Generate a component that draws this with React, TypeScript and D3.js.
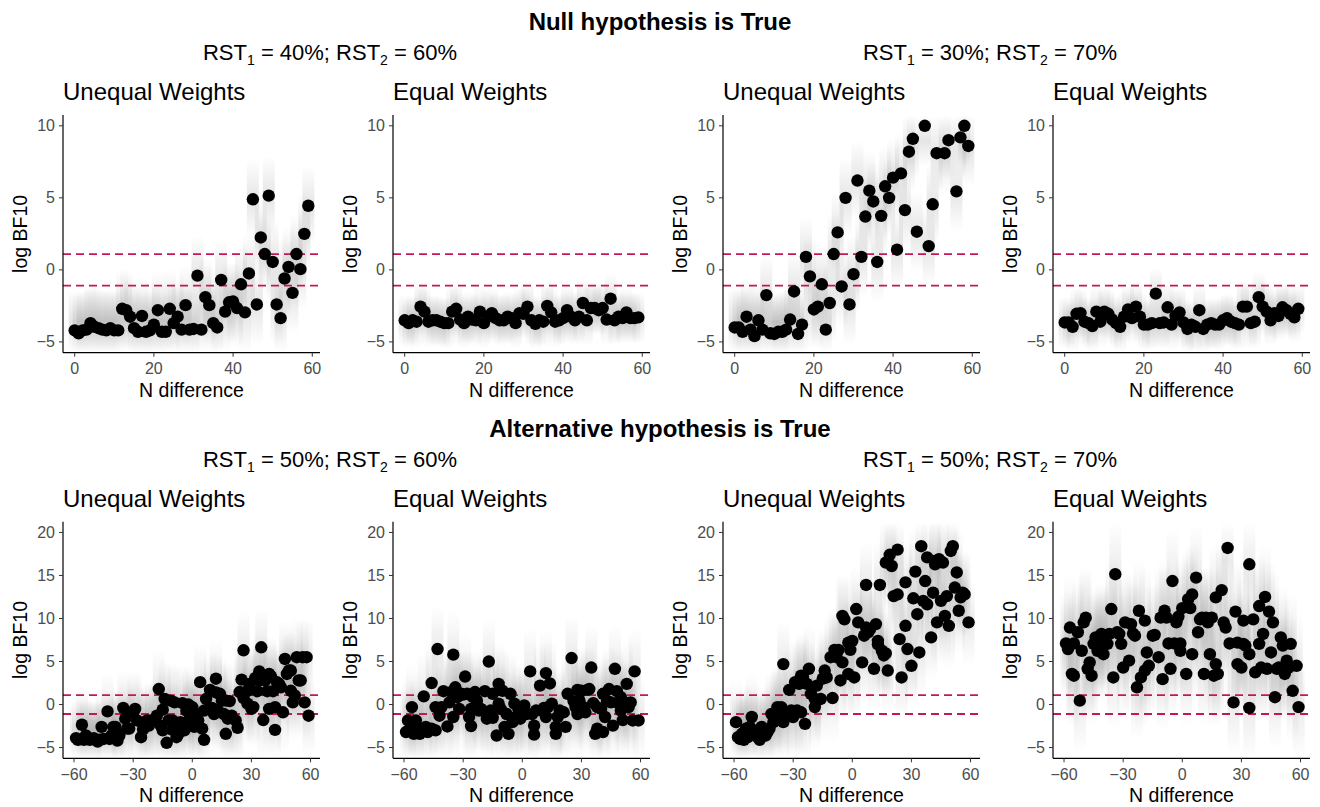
import * as d3 from "d3";

// N difference for the top row (null hypothesis panels)
const nTop = [
  0, 1, 2, 3, 4, 5, 6, 7, 8, 9, 10, 11, 12, 13, 14, 15, 16, 17, 18, 19,
  20, 21, 22, 23, 24, 25, 26, 27, 28, 29, 30, 31, 32, 33, 34, 35, 36, 37, 38, 39,
  40, 41, 42, 43, 44, 45, 46, 47, 48, 49, 50, 51, 52, 53, 54, 55, 56, 57, 58, 59,
];

// log BF10, RST1 = 40%; RST2 = 60%
const nullUnequal4060 = [
  -4.2, -4.4, -4.2, -4.15, -3.7, -3.95, -4.05, -4.15, -4.2, -4.05,
  -4.2, -4.2, -2.7, -2.8, -3.25, -4.05, -4.3, -3.2, -4.3, -4.2,
  -3.8, -2.8, -4.3, -4.3, -2.7, -3.7, -3.25, -4.15, -2.45, -4.15,
  -4.1, -0.4, -4.15, -1.9, -2.45, -3.7, -4.0, -0.7, -2.9, -2.25,
  -2.2, -2.65, -1.0, -2.95, -0.25, 4.9, -2.4, 2.25, 1.1, 5.15,
  0.55, -2.4, -3.35, -0.6, 0.2, -1.6, 1.1, 0.05, 2.5, 4.45,
];
const nullEqual4060 = [
  -3.5, -3.7, -3.5, -3.6, -2.55, -2.9, -3.6, -3.5, -3.5, -3.6,
  -3.7, -3.7, -2.9, -2.7, -3.45, -3.7, -3.25, -3.45, -3.5, -2.9,
  -3.7, -3.25, -3.0, -3.35, -3.5, -3.5, -3.25, -3.35, -3.7, -3.0,
  -3.05, -2.55, -3.5, -3.75, -3.5, -3.6, -2.5, -2.95, -3.6, -3.5,
  -3.35, -2.8, -3.25, -3.5, -3.25, -2.3, -3.5, -2.65, -2.65, -2.8,
  -2.65, -3.45, -2.0, -3.5, -3.25, -3.35, -2.95, -3.35, -3.35, -3.3,
];
// log BF10, RST1 = 30%; RST2 = 70% (null = outside the axis limits)
const nullUnequal3070: (number | null)[] = [
  -4.0, -4.0, -4.3, -3.25, -4.15, -4.6, -3.5, -4.15, -1.75, -4.4,
  -4.45, -4.3, -4.3, -4.15, -3.45, -1.5, -4.45, -3.8, 0.9, -0.45,
  -2.75, -2.55, -1.0, -4.15, -2.3, 1.1, 2.6, -1.15, 5.0, -2.4,
  -0.3, 6.2, 0.9, 3.7, 5.5, 4.75, 0.55, 3.75, 5.8, 5.0,
  6.4, 1.4, 6.7, 4.15, 8.2, 9.1, 2.65, null, 10.0, 1.65,
  4.55, 8.1, null, 8.1, 9.0, null, 5.45, 9.2, 10.0, 8.6,
];
const nullEqual3070 = [
  -3.65, -3.65, -3.95, -3.05, -3.0, -3.6, -3.7, -3.9, -2.9, -3.6,
  -2.9, -3.05, -3.45, -3.7, -3.95, -3.25, -2.75, -3.35, -2.55, -3.25,
  -3.8, -3.8, -3.7, -1.65, -3.7, -3.65, -2.6, -3.8, -3.2, -2.95,
  -3.65, -4.1, -3.8, -3.95, -2.8, -4.1, -3.8, -3.7, -3.8, -3.8,
  -3.5, -3.35, -3.6, -3.7, -3.8, -2.55, -2.55, -3.7, -3.6, -1.9,
  -2.55, -2.9, -3.5, -3.0, -3.2, -2.6, -2.8, -3.05, -3.3, -2.7,
];

// Alternative hypothesis panels: [N difference, log BF10]
type Pt = [number, number];
const altUnequal5060: Pt[] = [
  [-59, -3.9], [-58, -4.1], [-56, -2.35], [-55, -4.1], [-54, -3.6], [-53, -4.0], [-52, -4.1],
  [-50, -3.9], [-49, -4.1], [-48, -4.3], [-46, -2.6], [-47, -4.1], [-45, -4.0], [-43, -0.8],
  [-42, -4.0], [-41, -3.6], [-40, -2.6], [-39, -2.6], [-38, -3.4], [-38, -4.2], [-37, -3.6],
  [-35, -0.4], [-34, -1.65], [-33, -2.8], [-32, -2.8], [-30, -0.9], [-29, -0.5], [-28, -1.85],
  [-26, -3.8], [-25, -2.9], [-24, -2.25], [-23, -1.85], [-22, -2.45], [-21, -1.85], [-19, -1.8],
  [-18, -1.3], [-17, 1.8], [-16, -2.45], [-15, -0.6], [-15, -3.0], [-14, 0.65], [-13, -4.45],
  [-12, -1.85], [-11, 0.45], [-10, -1.85], [-10, -2.95], [-9, 0.25], [-8, -3.8], [-7, -3.4],
  [-6, -2.05], [-5, 0.15], [-4, -3.0], [-3, -0.7], [-2, -1.95], [-2, 0.0], [-1, -1.55],
  [0, -0.3], [1, -2.6], [1, -0.9], [2, -1.85], [3, -1.85], [4, 2.6], [5, -2.8], [6, -4.1],
  [6, -0.7], [7, 0.65], [9, 1.7], [10, -0.4], [11, -1.1], [12, 3.0], [12, 1.4], [13, -0.7],
  [14, 1.25], [15, 0.45], [16, -1.1], [17, -3.4], [17, 0.45], [18, -1.65], [19, 0.4],
  [20, -1.3], [22, -1.85], [23, -2.7], [24, 1.45], [25, 2.9], [26, 6.3], [26, 0.75],
  [28, 0.1], [28, 1.6], [29, 2.4], [30, -0.5], [31, -0.3], [32, 3.1], [33, 1.55], [34, 2.8],
  [34, 3.85], [35, 6.65], [36, -1.8], [37, 2.8], [38, 1.55], [39, -0.5], [39, 3.55], [40, 3.25],
  [41, 1.55], [42, -2.95], [42, -0.3], [43, 2.6], [44, 2.4], [45, 2.0], [46, -0.9], [47, 5.3],
  [48, 3.55], [49, 3.95], [50, 1.6], [50, 3.95], [51, 0.25], [52, 1.05], [53, 5.5], [54, 2.8],
  [55, 2.8], [56, 5.5], [57, 0.25], [58, 5.5], [59, -1.3],
];
const altEqual5060: Pt[] = [
  [-59, -3.2], [-58, -1.85], [-57, -2.8], [-56, -0.3], [-55, -3.4], [-54, -1.85], [-53, -2.7],
  [-52, -3.4], [-50, 0.95], [-49, -2.6], [-48, -3.2], [-46, -2.8], [-46, 2.5], [-44, -3.0],
  [-44, -0.3], [-43, 6.45], [-42, -1.3], [-41, -0.3], [-40, 1.55], [-38, -2.55], [-37, 0.25],
  [-36, 1.45], [-35, -1.45], [-35, 5.8], [-34, 2.0], [-33, 0.85], [-32, -0.5], [-31, 1.25],
  [-30, 1.15], [-29, 3.25], [-28, 1.25], [-27, -1.45], [-26, -2.5], [-26, -0.5], [-25, 0.85],
  [-24, 1.45], [-23, 0.45], [-22, -0.7], [-21, -0.5], [-20, -0.7], [-19, 1.55], [-18, -1.65],
  [-17, 5.0], [-16, -0.7], [-15, 1.25], [-15, -1.55], [-13, -3.6], [-12, 2.4], [-12, 0.1],
  [-11, -0.5], [-10, 1.6], [-9, -2.6], [-8, -1.1], [-7, -3.4], [-6, 1.25], [-5, -2.05],
  [-4, 0.1], [-3, -1.45], [-2, -0.5], [-1, -1.65], [0, -1.1], [1, -0.1], [2, -1.1], [4, 3.85],
  [5, -1.1], [6, -2.45], [6, -3.5], [7, -0.7], [9, 2.2], [10, -0.7], [11, -0.4], [12, 3.65],
  [12, -1.45], [13, -0.3], [14, 2.45], [15, 0.1], [17, -3.4], [17, -2.6], [18, -1.45],
  [19, -0.7], [21, -0.9], [22, -2.6], [23, 1.25], [25, 5.4], [26, 0.4], [27, -0.3], [28, -1.1],
  [28, 1.7], [29, 0.45], [30, 1.6], [31, -0.3], [32, -0.9], [33, 1.7], [34, 1.8], [35, 4.3],
  [36, 0.15], [37, -3.4], [38, -0.3], [38, -2.8], [40, -0.5], [41, 1.25], [41, -3.2],
  [42, -1.45], [43, 0.45], [44, 1.8], [45, 0.25], [46, -2.45], [47, 4.15], [48, 1.55],
  [49, 0.1], [50, -0.7], [50, 0.85], [51, -1.8], [52, 0.25], [53, 2.4], [54, -0.3], [55, 0.25],
  [56, -1.85], [57, 3.85], [59, -1.85],
];
const altUnequal5070: Pt[] = [
  [-59, -2.05], [-58, -3.8], [-57, -4.0], [-56, -3.4], [-55, -4.1], [-54, -2.8], [-53, -3.8],
  [-52, -2.6], [-51, -1.45], [-49, -3.2], [-48, -3.8], [-47, -4.1], [-46, -2.6], [-44, -3.6],
  [-43, -3.2], [-42, -2.8], [-41, -1.1], [-40, -2.05], [-39, -1.1], [-38, -0.3], [-37, -0.7],
  [-36, -0.3], [-35, 4.7], [-35, -2.05], [-34, -1.1], [-32, 1.7], [-31, -0.7], [-30, -1.45],
  [-29, 2.6], [-28, -0.7], [-27, 2.4], [-26, -0.9], [-26, 3.35], [-25, 3.25], [-24, -2.25],
  [-23, 2.4], [-22, 4.15], [-21, 1.25], [-19, 0.65], [-19, -0.3], [-18, 2.2], [-16, 0.65],
  [-15, 3.0], [-14, 3.95], [-13, 3.15], [-11, 5.5], [-10, 0.75], [-9, 6.35], [-8, 5.5],
  [-7, 6.35], [-6, 2.8], [-5, 10.3], [-5, 4.9], [-4, 9.9], [-2, 7.2], [-2, 3.55], [-1, 6.35],
  [0, 7.4], [1, 3.15], [2, 11.1], [3, 9.55], [5, 4.9], [6, 8.0], [7, 8.95], [7, 13.9],
  [8, 8.4], [9, 8.75], [11, 4.15], [12, 9.35], [13, 7.4], [13, 7.0], [14, 13.9], [15, 6.25],
  [16, 5.7], [17, 16.5], [17, 5.95], [18, 3.95], [19, 17.4], [20, 16.1], [21, 12.6], [23, 12.8],
  [23, 18.0], [24, 7.6], [25, 3.15], [27, 14.2], [27, 9.15], [28, 6.45], [30, 4.5], [31, 12.35],
  [32, 15.45], [33, 10.5], [34, 6.05], [35, 18.4], [36, 12.05], [37, 14.35], [38, 11.65],
  [38, 17.1], [40, 7.8], [41, 13.0], [42, 16.3], [42, 16.7], [43, 9.55], [44, 16.9], [45, 12.05],
  [46, 16.5], [47, 10.3], [48, 12.6], [49, 9.15], [50, 17.85], [51, 18.4], [52, 13.6],
  [53, 15.35], [54, 10.9], [55, 12.45], [56, 13.0], [57, 12.8], [59, 9.55],
];
const altEqual5070: Pt[] = [
  [-59, 7.1], [-58, 6.45], [-57, 8.95], [-56, 3.55], [-55, 3.35], [-55, 7.1], [-53, 8.4],
  [-52, 0.45], [-51, 6.25], [-50, 9.55], [-49, 10.1], [-48, 4.15], [-47, 4.9], [-46, 3.35],
  [-45, 7.05], [-44, 7.8], [-43, 6.25], [-43, 7.05], [-42, 7.8], [-41, 8.2], [-40, 5.85],
  [-39, 7.8], [-38, 7.05], [-37, 8.2], [-36, 11.1], [-35, 3.15], [-34, 15.15], [-33, 8.4],
  [-32, 8.2], [-31, 7.05], [-30, 4.3], [-29, 9.55], [-27, 5.1], [-26, 9.35], [-25, 8.25],
  [-24, 8.0], [-23, 2.0], [-22, 10.9], [-21, 3.15], [-19, 9.75], [-19, 3.95], [-18, 6.05],
  [-17, 4.5], [-15, 8.0], [-14, 8.1], [-12, 5.5], [-11, 10.1], [-10, 2.95], [-9, 10.9],
  [-8, 10.1], [-7, 7.1], [-6, 4.15], [-5, 14.35], [-4, 7.1], [-3, 9.55], [-2, 10.2],
  [-1, 6.25], [-1, 7.1], [0, 11.2], [2, 3.55], [3, 12.25], [4, 11.2], [5, 5.85], [5, 12.8],
  [7, 14.75], [8, 8.4], [9, 9.9], [10, 10.1], [11, 3.55], [12, 10.1], [13, 9.55], [14, 5.85],
  [15, 10.1], [16, 3.35], [17, 12.45], [17, 4.7], [18, 3.55], [20, 13.3], [21, 9.55], [22, 8.95],
  [23, 18.2], [24, 7.1], [26, 0.25], [27, 10.8], [28, 7.2], [28, 4.7], [30, 4.3], [31, 7.05],
  [31, 9.75], [32, 6.85], [34, -0.4], [34, 16.3], [34, 5.85], [36, 9.9], [37, 3.75], [39, 11.45],
  [39, 7.05], [40, 4.3], [41, 8.2], [42, 12.5], [43, 4.15], [44, 10.8], [45, 6.05], [46, 9.55],
  [47, 0.85], [48, 4.15], [49, 4.3], [50, 7.8], [51, 6.85], [52, 3.55], [53, 5.1], [54, 4.3],
  [55, 7.05], [56, 1.6], [58, 4.5], [59, -0.3],
];

const topXTicks = [0, 20, 40, 60];
const topYTicks = [-5, 0, 5, 10];
const botXTicks = [-60, -30, 0, 30, 60];
const botYTicks = [-5, 0, 5, 10, 15, 20];

const FONT = "'Liberation Sans', Arial, sans-serif";
const THRESH = Math.log(3);
const PLOT_W = 257;
const PANEL_LEFTS = [63, 393, 723, 1053];
const fmt = (v: number) => (v < 0 ? "\u2212" + Math.abs(v) : String(v));

function Panel(props: {
  left: number;
  top: number;
  bottom: number;
  title: string;
  xDomain: [number, number];
  yDomain: [number, number];
  xTicks: number[];
  yTicks: number[];
  points: Pt[];
  spread: number;
  streakId: string;
}) {
  const { left, top, bottom, title, xDomain, yDomain, xTicks, yTicks, points, spread, streakId } = props;
  const x = d3.scaleLinear().domain(xDomain).range([left, left + PLOT_W]);
  const y = d3.scaleLinear().domain(yDomain).range([bottom, top]);
  const yLo = y.domain()[0];
  const yHi = y.domain()[1];
  return (
    <g>
      <text x={left} y={top - 15} fontSize={24} fontFamily={FONT} fill="#000">
        {title}
      </text>
      {/* simulation spread behind each point */}
      {points.map(([n, v], i) => {
        const a = y(Math.min(yHi, v + spread));
        const b = y(Math.max(yLo, v - spread));
        return (
          <rect key={"s" + i} x={x(n) - 6} y={a} width={12} height={b - a} rx={6} fill={`url(#${streakId})`} />
        );
      })}
      {[THRESH, -THRESH].map((t) => (
        <line
          key={t}
          x1={left}
          x2={left + PLOT_W + 2}
          y1={y(t)}
          y2={y(t)}
          stroke="#C2185B"
          strokeWidth={1.8}
          strokeDasharray="8,5"
        />
      ))}
      {points.map(([n, v], i) => (
        <circle key={"p" + i} cx={x(n)} cy={y(v)} r={6.2} fill="#000" />
      ))}
      <line x1={left} x2={left} y1={top} y2={bottom} stroke="#000" strokeWidth={1.2} />
      <line x1={left} x2={left + PLOT_W} y1={bottom} y2={bottom} stroke="#000" strokeWidth={1.2} />
      {yTicks.map((t) => (
        <g key={"y" + t}>
          <line x1={left - 4} x2={left} y1={y(t)} y2={y(t)} stroke="#333" />
          <text
            x={left - 8}
            y={y(t)}
            dy="0.35em"
            textAnchor="end"
            fontSize={16}
            fontFamily={FONT}
            fill="#4D4D4D"
          >
            {fmt(t)}
          </text>
        </g>
      ))}
      {xTicks.map((t) => (
        <g key={"x" + t}>
          <line x1={x(t)} x2={x(t)} y1={bottom} y2={bottom + 4} stroke="#333" />
          <text
            x={x(t)}
            y={bottom + 16}
            dy="0.35em"
            textAnchor="middle"
            fontSize={16}
            fontFamily={FONT}
            fill="#4D4D4D"
          >
            {fmt(t)}
          </text>
        </g>
      ))}
      <text
        x={left + PLOT_W / 2}
        y={bottom + 37}
        dy="0.35em"
        textAnchor="middle"
        fontSize={19.5}
        fontFamily={FONT}
        fill="#000"
      >
        N difference
      </text>
      <text
        transform={`translate(${left - 43},${(top + bottom) / 2}) rotate(-90)`}
        dy="0.35em"
        textAnchor="middle"
        fontSize={19.5}
        fontFamily={FONT}
        fill="#000"
      >
        log BF10
      </text>
    </g>
  );
}

function Subtitle({ cx, y, a, b }: { cx: number; y: number; a: string; b: string }) {
  return (
    <text x={cx} y={y} textAnchor="middle" fontSize={22} fontFamily={FONT} fill="#000">
      RST
      <tspan fontSize={14} dy={5}>1</tspan>
      <tspan dy={-5}>{` = ${a}; RST`}</tspan>
      <tspan fontSize={14} dy={5}>2</tspan>
      <tspan dy={-5}>{` = ${b}`}</tspan>
    </text>
  );
}

const toPts = (vals: (number | null)[]): Pt[] =>
  nTop.flatMap((n, i) => (vals[i] == null ? [] : [[n, vals[i] as number] as Pt]));

export default function App() {
  const topRow = [
    { title: "Unequal Weights", pts: toPts(nullUnequal4060), spread: 2.8 },
    { title: "Equal Weights", pts: toPts(nullEqual4060), spread: 1.8 },
    { title: "Unequal Weights", pts: toPts(nullUnequal3070), spread: 2.8 },
    { title: "Equal Weights", pts: toPts(nullEqual3070), spread: 1.8 },
  ];
  const botRow = [
    { title: "Unequal Weights", pts: altUnequal5060, spread: 4.5 },
    { title: "Equal Weights", pts: altEqual5060, spread: 5 },
    { title: "Unequal Weights", pts: altUnequal5070, spread: 5 },
    { title: "Equal Weights", pts: altEqual5070, spread: 6 },
  ];
  return (
    <div style={{ position: "absolute", left: 0, top: 0, background: "#fff" }}>
      <svg width={1320} height={807} style={{ display: "block" }}>
        <defs>
          <linearGradient id="streakTop" x1="0" y1="0" x2="0" y2="1">
            <stop offset="0%" stopColor="#8a8a8a" stopOpacity={0} />
            <stop offset="50%" stopColor="#8a8a8a" stopOpacity={0.22} />
            <stop offset="100%" stopColor="#8a8a8a" stopOpacity={0} />
          </linearGradient>
          <linearGradient id="streakBot" x1="0" y1="0" x2="0" y2="1">
            <stop offset="0%" stopColor="#8a8a8a" stopOpacity={0} />
            <stop offset="50%" stopColor="#8a8a8a" stopOpacity={0.17} />
            <stop offset="100%" stopColor="#8a8a8a" stopOpacity={0} />
          </linearGradient>
        </defs>
        <rect width={1320} height={807} fill="#fff" />
        <text x={660} y={30} textAnchor="middle" fontSize={24} fontWeight="bold" fontFamily={FONT}>
          Null hypothesis is True
        </text>
        <Subtitle cx={330} y={60} a="40%" b="60%" />
        <Subtitle cx={990} y={60} a="30%" b="70%" />
        {topRow.map((p, i) => (
          <Panel
            key={"t" + i}
            left={PANEL_LEFTS[i]}
            top={115}
            bottom={352.7}
            title={p.title}
            xDomain={[-2.95, 61.95]}
            yDomain={[-5.75, 10.75]}
            xTicks={topXTicks}
            yTicks={topYTicks}
            points={p.pts}
            spread={p.spread}
            streakId="streakTop"
          />
        ))}
        <text x={660} y={437} textAnchor="middle" fontSize={24} fontWeight="bold" fontFamily={FONT}>
          Alternative hypothesis is True
        </text>
        <Subtitle cx={330} y={467} a="50%" b="60%" />
        <Subtitle cx={990} y={467} a="50%" b="70%" />
        {botRow.map((p, i) => (
          <Panel
            key={"b" + i}
            left={PANEL_LEFTS[i]}
            top={521.7}
            bottom={758.3}
            title={p.title}
            xDomain={[-65.6, 64.8]}
            yDomain={[-6.25, 21.25]}
            xTicks={botXTicks}
            yTicks={botYTicks}
            points={p.pts}
            spread={p.spread}
            streakId="streakBot"
          />
        ))}
      </svg>
    </div>
  );
}
